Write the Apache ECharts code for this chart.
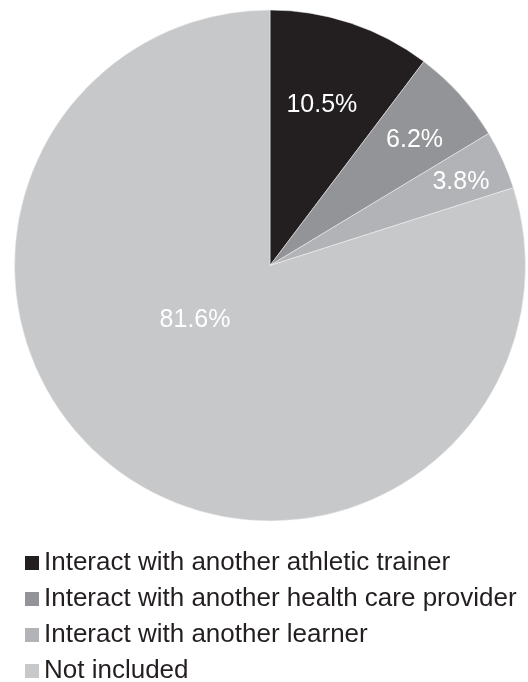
<!DOCTYPE html>
<html>
<head>
<meta charset="utf-8">
<script src="https://cdn.jsdelivr.net/npm/echarts@6/dist/echarts.min.js"></script>
<style>
  html, body { margin: 0; padding: 0; background: #ffffff; }
  #chart { width: 528px; height: 682px; }
</style>
</head>
<body>
<div id="chart"></div>
<script>
// Share of sessions by type of interaction (percent)
const categories = [
  'Interact with another athletic trainer',
  'Interact with another health care provider',
  'Interact with another learner',
  'Not included'
];
const shares = [10.5, 6.2, 3.8, 81.6];

// Styling
const sliceColors = ['#231f20', '#929497', '#b1b3b6', '#c7c8ca'];
const FONT = '"Liberation Sans", Arial, Helvetica, sans-serif';
const CX = 270, CY = 265.5, R = 255.5;
// where each percentage label sits inside its slice: fraction of radius, extra turn in degrees
const labelRadius = [0.66, 0.75, 0.815, 0.362];
const labelTurn = [-0.6, 1, 0.9, 18];

const total = shares.reduce((a, b) => a + b, 0);
const midAngles = [];
let acc = 0;
shares.forEach(v => {
  midAngles.push((acc + v / 2) / total * 360);
  acc += v;
});

const chart = echarts.init(document.getElementById('chart'), null, { renderer: 'canvas' });
chart.setOption({
  animation: false,
  backgroundColor: '#ffffff',
  color: sliceColors,
  legend: {
    orient: 'vertical',
    left: 25,
    top: 550,
    height: 160,
    padding: 0,
    itemWidth: 14,
    itemHeight: 14,
    itemGap: 10,
    icon: 'rect',
    selectedMode: false,
    itemStyle: { borderWidth: 0 },
    data: categories,
    textStyle: { fontFamily: FONT, fontSize: 26, lineHeight: 26, color: '#231f20' }
  },
  series: [{
    type: 'pie',
    center: [CX, CY],
    radius: [0, R],
    startAngle: 90,
    clockwise: true,
    silent: true,
    itemStyle: { borderColor: '#f4f4f4', borderWidth: 0.5 },
    label: {
      show: true,
      position: 'inside',
      formatter: p => p.value + '%',
      color: '#ffffff',
      fontFamily: FONT,
      fontSize: 25,
      align: 'center',
      verticalAlign: 'middle'
    },
    labelLine: { show: false },
    labelLayout: params => {
      const i = params.dataIndex;
      const a = (midAngles[i] + labelTurn[i]) * Math.PI / 180;
      const d = labelRadius[i] * R;
      return {
        x: CX + d * Math.sin(a),
        y: CY - d * Math.cos(a),
        align: 'center',
        verticalAlign: 'middle'
      };
    },
    data: categories.map((name, i) => ({ name, value: shares[i] }))
  }]
});
</script>
</body>
</html>
